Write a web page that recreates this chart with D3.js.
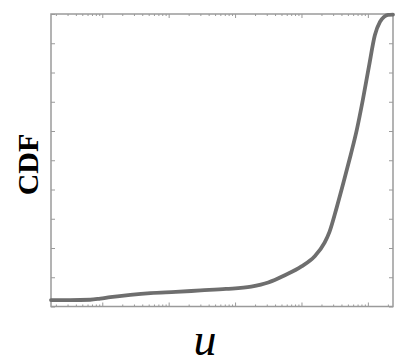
<!DOCTYPE html>
<html>
<head>
<meta charset="utf-8">
<script src="https://cdn.jsdelivr.net/npm/d3@7"></script>
<style>
  html, body { margin: 0; padding: 0; background: #fff; }
  svg { display: block; }
</style>
</head>
<body>
<svg id="chart" width="398" height="364"></svg>
<script>
// ---- data ----
const uValues = [1.69e-5, 3.27e-5, 6.58e-5, 9.33e-5, 1.32e-4, 2.65e-4, 5.33e-4, 1.28e-3,
                 3.05e-3, 7.31e-3, 0.0175, 0.0316, 0.0552, 0.1, 0.157, 0.223, 0.265, 0.339,
                 0.433, 0.552, 0.681, 0.839, 1.035, 1.276, 1.52, 1.75, 2.01, 2.39];
const cdfValues = [0.022, 0.022, 0.023, 0.027, 0.032, 0.040, 0.046, 0.050,
                   0.055, 0.060, 0.068, 0.082, 0.106, 0.137, 0.171, 0.218, 0.256, 0.338,
                   0.427, 0.519, 0.604, 0.706, 0.819, 0.928, 0.973, 0.990, 0.997, 0.998];
const uDomain = [1.69e-5, 2.39];
const cdfDomain = [0, 1];
const yTickValues = [0, 0.1, 0.2, 0.3, 0.4, 0.5, 0.6, 0.7, 0.8, 0.9, 1];
const xLabel = "u";
const yLabel = "CDF";

// ---- layout ----
const svg = d3.select("#chart");
const L = 51, R = 393, T = 14, B = 306.5;
const frameColor = "#9a9a9a";

const x = d3.scaleLog().domain(uDomain).range([L, R]);
const y = d3.scaleLinear().domain(cdfDomain).range([B, T]);

const allXTicks = x.ticks();
const majorX = allXTicks.filter(v => Math.abs(Math.log10(v) - Math.round(Math.log10(v))) < 1e-9);
const minorX = allXTicks.filter(v => !majorX.includes(v));

function styleAxis(g) {
  g.select(".domain").remove();
  g.selectAll(".tick text").remove();
  g.selectAll(".tick line").attr("stroke", frameColor).attr("stroke-width", 1);
}

// bottom axis (inward ticks)
svg.append("g").attr("transform", `translate(0,${B})`)
  .call(d3.axisBottom(x).tickValues(majorX).tickSize(-4).tickFormat(""))
  .call(styleAxis);
svg.append("g").attr("transform", `translate(0,${B})`)
  .call(d3.axisBottom(x).tickValues(minorX).tickSize(-2).tickFormat(""))
  .call(styleAxis);
// top axis
svg.append("g").attr("transform", `translate(0,${T})`)
  .call(d3.axisTop(x).tickValues(majorX).tickSize(-4).tickFormat(""))
  .call(styleAxis);
svg.append("g").attr("transform", `translate(0,${T})`)
  .call(d3.axisTop(x).tickValues(minorX).tickSize(-2).tickFormat(""))
  .call(styleAxis);
// left axis
svg.append("g").attr("transform", `translate(${L},0)`)
  .call(d3.axisLeft(y).tickValues(yTickValues).tickSize(-4).tickFormat(""))
  .call(styleAxis);
// right axis
svg.append("g").attr("transform", `translate(${R},0)`)
  .call(d3.axisRight(y).tickValues(yTickValues).tickSize(-4).tickFormat(""))
  .call(styleAxis);

// frame
svg.append("rect")
  .attr("x", L).attr("y", T).attr("width", R - L).attr("height", B - T)
  .attr("fill", "none").attr("stroke", frameColor).attr("stroke-width", 1.5);

// curve
const pts = uValues.map((u, i) => [u, cdfValues[i]]);
const line = d3.line().x(d => x(d[0])).y(d => y(d[1])).curve(d3.curveMonotoneX);
svg.append("path").datum(pts)
  .attr("d", line)
  .attr("fill", "none")
  .attr("stroke", "#6e6e6e")
  .attr("stroke-width", 3.8)
  .attr("stroke-linejoin", "round")
  .attr("stroke-linecap", "round");

// labels
svg.append("text")
  .attr("transform", `translate(38,164.5) rotate(-90)`)
  .attr("text-anchor", "middle")
  .attr("font-family", "Liberation Serif, Times New Roman, serif")
  .attr("font-weight", "bold")
  .attr("font-size", 30)
  .attr("fill", "#000")
  .text(yLabel);

svg.append("text")
  .attr("x", 205).attr("y", 355)
  .attr("text-anchor", "middle")
  .attr("font-family", "Liberation Serif, Times New Roman, serif")
  .attr("font-style", "italic")
  .attr("font-size", 46)
  .attr("fill", "#000")
  .text(xLabel);
</script>
</body>
</html>
